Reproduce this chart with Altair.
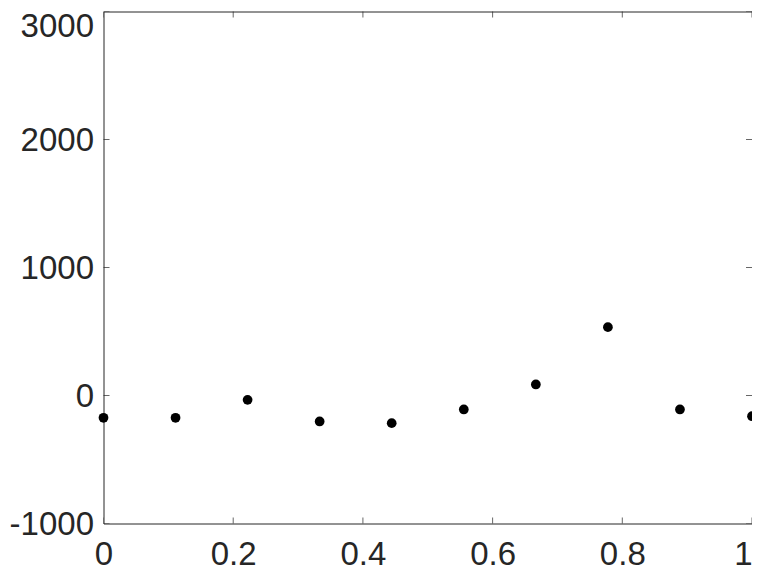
import altair as alt
import pandas as pd

x_vals = [0, 0.1111, 0.2222, 0.3333, 0.4444, 0.5556, 0.6667, 0.7778, 0.8889, 1]
y_vals = [-174, -174, -34, -203, -216, -109, 86, 534, -109, -162]
x_ticks = [0, 0.2, 0.4, 0.6, 0.8, 1]
y_ticks = [-1000, 0, 1000, 2000, 3000]

pts = pd.DataFrame({"x": x_vals, "y": y_vals})
xt = pd.DataFrame({"x": x_ticks})
yt = pd.DataFrame({"y": y_ticks})

W, H = 648.5, 512
ink = "#262626"

xs = alt.Scale(domain=[0, 1], nice=False, zero=False)
ys = alt.Scale(domain=[-1000, 3000], nice=False, zero=False)

xaxis = alt.Axis(values=x_ticks, labelExpr="'' + datum.value", title=None,
                 domain=False, ticks=False, grid=False, labelPadding=15,
                 labelFlush=False,
                 labelOffset={"condition": {"test": "datum.value == 1", "value": -9}, "value": 0})
yaxis = alt.Axis(values=y_ticks, labelExpr="'' + datum.value", title=None,
                 domain=False, ticks=False, grid=False, labelPadding=10,
                 labelFlush=False,
                 labelOffset={"condition": {"test": "datum.value == 3000", "value": 15}, "value": 1})

points = alt.Chart(pts).mark_circle(size=95, color="black", opacity=1, clip=False).encode(
    x=alt.X("x:Q", scale=xs, axis=xaxis),
    y=alt.Y("y:Q", scale=ys, axis=yaxis),
)

xt_bottom = alt.Chart(xt).mark_tick(orient="vertical", size=12, thickness=1, color=ink, clip=True).encode(
    x=alt.X("x:Q", scale=xs), y=alt.value(H))
xt_top = alt.Chart(xt).mark_tick(orient="vertical", size=12, thickness=1, color=ink, clip=True).encode(
    x=alt.X("x:Q", scale=xs), y=alt.value(0))
yt_left = alt.Chart(yt).mark_tick(orient="horizontal", size=12, thickness=1, color=ink, clip=True).encode(
    y=alt.Y("y:Q", scale=ys), x=alt.value(0))
yt_right = alt.Chart(yt).mark_tick(orient="horizontal", size=12, thickness=1, color=ink, clip=True).encode(
    y=alt.Y("y:Q", scale=ys), x=alt.value(W))

chart = alt.layer(xt_bottom, xt_top, yt_left, yt_right, points).properties(
    width=W, height=H,
    background="white",
    autosize=alt.AutoSizeParams(type="none"),
    padding={"left": 95.5, "top": 3.5, "right": 0, "bottom": 49},
).configure_view(stroke=ink, strokeWidth=1).configure_axis(
    labelFont="Liberation Sans", labelFontSize=33, labelColor=ink,
)

chart.save("out.html", embed_options={"renderer": "svg", "actions": False})
